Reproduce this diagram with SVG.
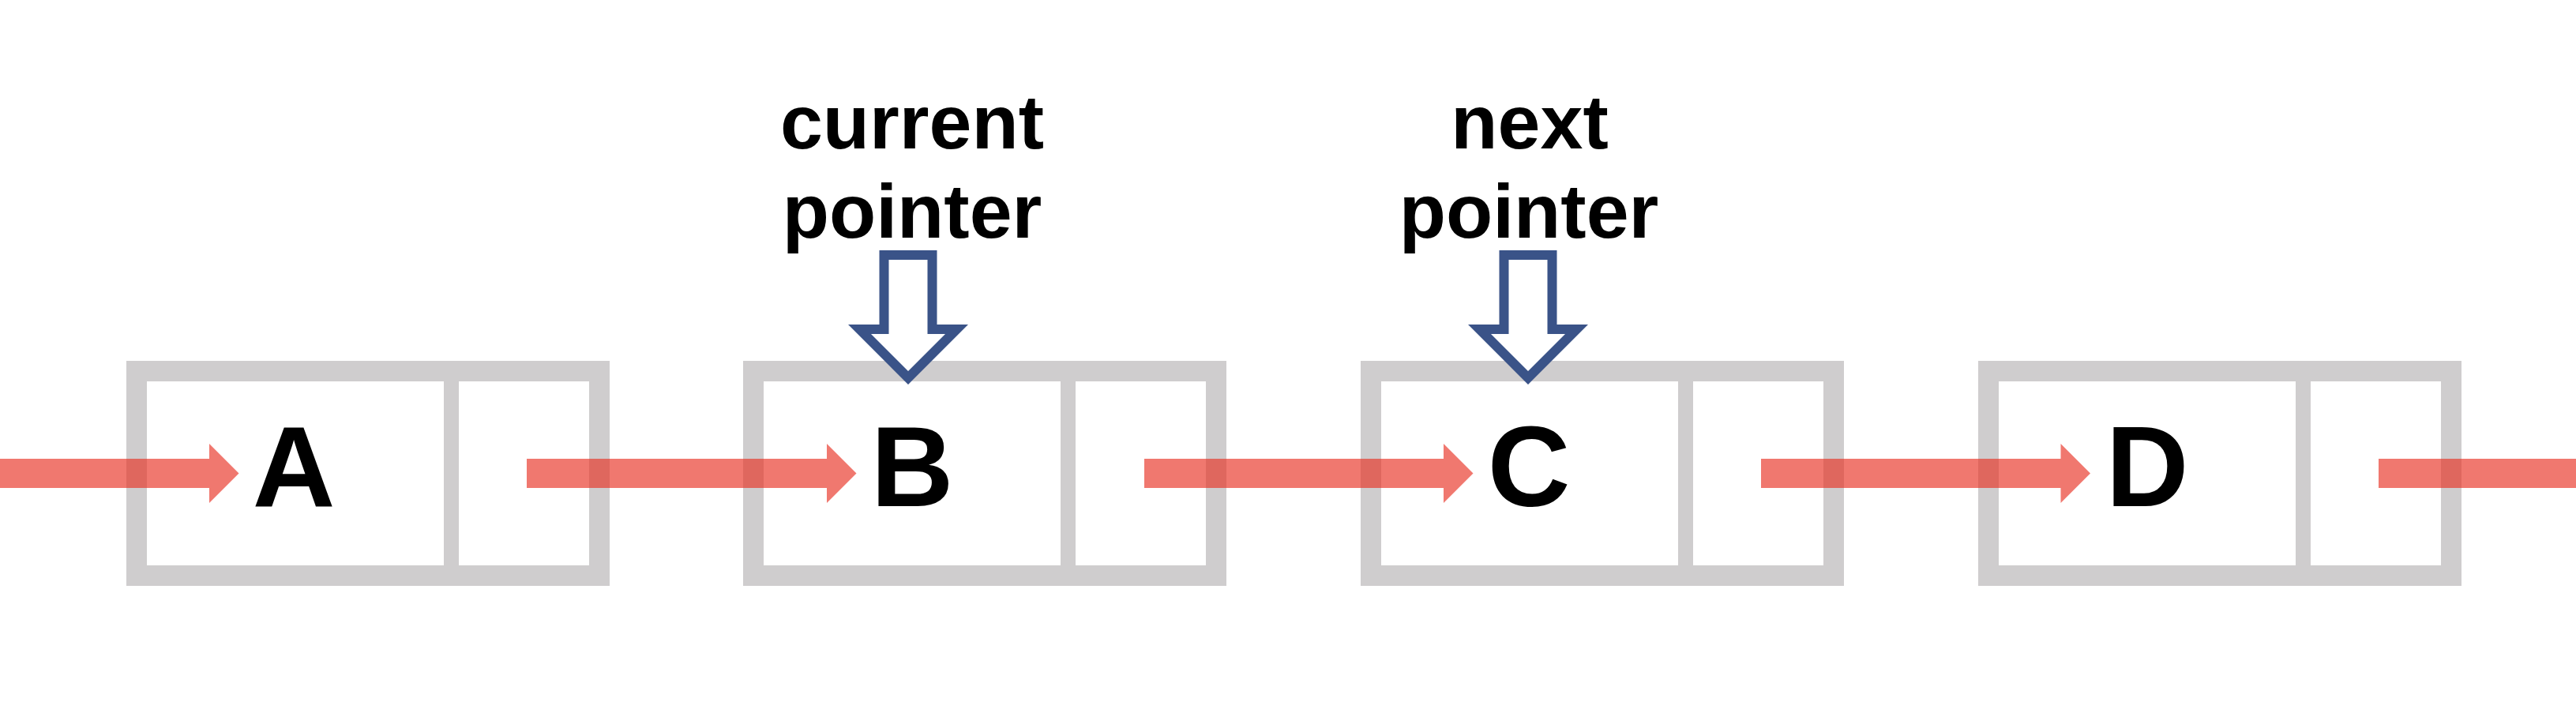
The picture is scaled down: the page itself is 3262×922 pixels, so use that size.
<svg xmlns="http://www.w3.org/2000/svg" width="3262" height="922" viewBox="0 0 3262 922">
<style>
.frame{fill:none;stroke:#cfcdce;stroke-width:26}
.div{fill:#cfcdce}
.letter{font-family:"Liberation Sans",Arial,sans-serif;font-weight:700;font-size:145px;fill:#000;text-anchor:middle}
.label{font-family:"Liberation Sans",Arial,sans-serif;font-weight:700;font-size:97px;fill:#000;text-anchor:middle}
.link{fill:rgb(232,48,34);fill-opacity:0.65}
.ptr{fill:#fff;stroke:#3a5388;stroke-width:12;stroke-linejoin:miter;stroke-miterlimit:10}
</style>
<rect width="3262" height="922" fill="#fff"/>
<g id="node-A">
<rect class="frame" x="173" y="470" width="586" height="259"/>
<rect class="div" x="562" y="483" width="19" height="233"/>
<text class="letter" x="372" y="641">A</text>
</g>
<g id="node-B">
<rect class="frame" x="954" y="470" width="586" height="259"/>
<rect class="div" x="1343" y="483" width="19" height="233"/>
<text class="letter" x="1155" y="641">B</text>
</g>
<g id="node-C">
<rect class="frame" x="1736" y="470" width="586" height="259"/>
<rect class="div" x="2125" y="483" width="19" height="233"/>
<text class="letter" x="1936" y="641">C</text>
</g>
<g id="node-D">
<rect class="frame" x="2518" y="470" width="586" height="259"/>
<rect class="div" x="2907" y="483" width="19" height="233"/>
<text class="letter" x="2719" y="641">D</text>
</g>
<g id="connectors">
<polygon class="link" points="0,581 265,581 265,562 302.5,599.5 265,637 265,618 0,618"/>
<polygon class="link" points="667,581 1047,581 1047,562 1084.5,599.5 1047,637 1047,618 667,618"/>
<polygon class="link" points="1449,581 1828,581 1828,562 1865.5,599.5 1828,637 1828,618 1449,618"/>
<polygon class="link" points="2230,581 2609.5,581 2609.5,562 2647,599.5 2609.5,637 2609.5,618 2230,618"/>
<rect class="link" x="3012" y="581" width="250" height="37"/>
</g>
<g id="current-pointer">
<text class="label" x="1155" y="188">current</text>
<text class="label" x="1155" y="301">pointer</text>
<polygon class="ptr" points="1119.5,323 1180.5,323 1180.5,417 1211.5,417 1150,478.5 1088.5,417 1119.5,417"/>
</g>
<g id="next-pointer">
<text class="label" x="1937" y="188">next</text>
<text class="label" x="1936" y="301">pointer</text>
<polygon class="ptr" points="1904.5,323 1965.5,323 1965.5,417 1996.5,417 1935,478.5 1873.5,417 1904.5,417"/>
</g>
</svg>
